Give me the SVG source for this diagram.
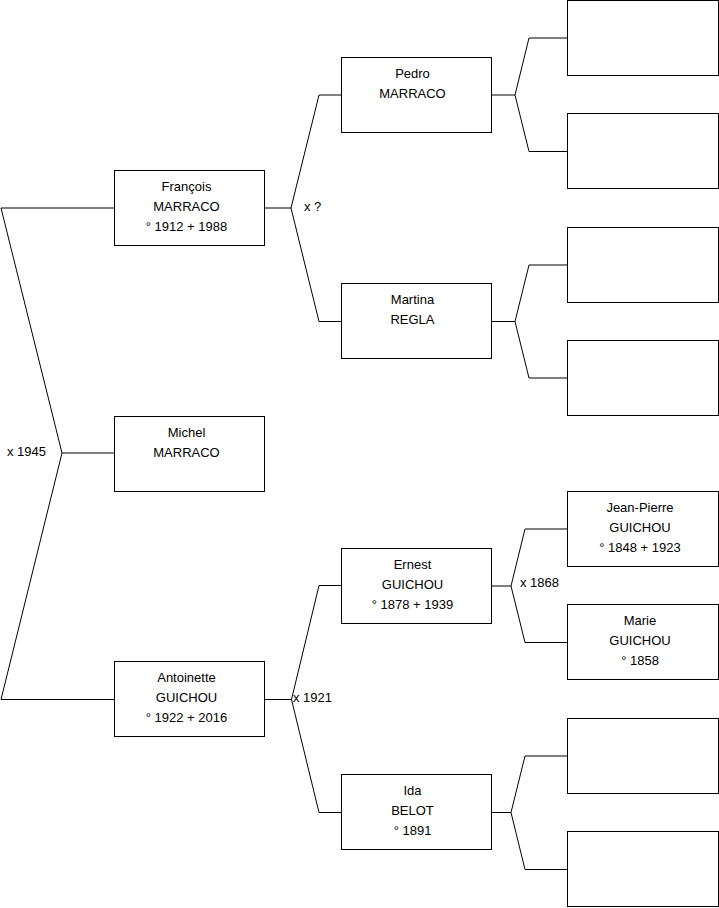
<svg xmlns="http://www.w3.org/2000/svg" width="719" height="908" viewBox="0 0 719 908">
<style>
.box{fill:#fff;stroke:#000;stroke-width:1}
.ln{fill:none;stroke:#000;stroke-width:1}
text{font-family:"Liberation Sans",Arial,sans-serif;font-size:13px;fill:#000}
.c{text-anchor:middle}
</style>
<rect width="719" height="908" fill="#fff"/>
<g id="connectors">
<polyline class="ln" points="114,208 1,208 62,453 1,699.5 114,699.5"/>
<line class="ln" x1="62" y1="453" x2="114" y2="453"/>
<text x="7" y="456">x 1945</text>
<polyline class="ln" points="341,95 319,95 291,208 319,321.5 341,321.5"/>
<line class="ln" x1="265" y1="208" x2="291" y2="208"/>
<text x="304" y="211">x ?</text>
<polyline class="ln" points="341,585.5 319,585.5 291.5,699.5 319,812.5 341,812.5"/>
<line class="ln" x1="265" y1="699.5" x2="291.5" y2="699.5"/>
<text x="293" y="702">x 1921</text>
<polyline class="ln" points="567,38 529,38 515,95 529,151.5 567,151.5"/>
<line class="ln" x1="491" y1="95" x2="515" y2="95"/>
<polyline class="ln" points="567,265 529,265 515,321.5 529,378 567,378"/>
<line class="ln" x1="491" y1="321.5" x2="515" y2="321.5"/>
<polyline class="ln" points="567,529 525,529 511,586 525,642.5 567,642.5"/>
<line class="ln" x1="491" y1="586" x2="511" y2="586"/>
<text x="520" y="587">x 1868</text>
<polyline class="ln" points="567,756 525,756 511,812.5 525,869.5 567,869.5"/>
<line class="ln" x1="491" y1="812.5" x2="511" y2="812.5"/>
</g>
<g id="francois"><rect class="box" x="114.5" y="170.5" width="150" height="75"/>
<text class="c" x="186.5" y="191">François</text><text class="c" x="186.5" y="211">MARRACO</text><text class="c" x="186.5" y="231">° 1912 + 1988</text></g>
<g id="michel"><rect class="box" x="114.5" y="416.5" width="150" height="75"/>
<text class="c" x="186.5" y="437">Michel</text><text class="c" x="186.5" y="457">MARRACO</text></g>
<g id="antoinette"><rect class="box" x="114.5" y="661.5" width="150" height="75"/>
<text class="c" x="186.5" y="682">Antoinette</text><text class="c" x="186.5" y="702">GUICHOU</text><text class="c" x="186.5" y="722">° 1922 + 2016</text></g>
<g id="pedro"><rect class="box" x="341.5" y="57.5" width="150" height="75"/>
<text class="c" x="412.5" y="78">Pedro</text><text class="c" x="412.5" y="98">MARRACO</text></g>
<g id="martina"><rect class="box" x="341.5" y="283.5" width="150" height="75"/>
<text class="c" x="412.5" y="304">Martina</text><text class="c" x="412.5" y="324">REGLA</text></g>
<g id="ernest"><rect class="box" x="341.5" y="548.5" width="150" height="75"/>
<text class="c" x="412.5" y="569">Ernest</text><text class="c" x="412.5" y="589">GUICHOU</text><text class="c" x="412.5" y="609">° 1878 + 1939</text></g>
<g id="ida"><rect class="box" x="341.5" y="774.5" width="150" height="75"/>
<text class="c" x="412.5" y="795">Ida</text><text class="c" x="412.5" y="815">BELOT</text><text class="c" x="412.5" y="835">° 1891</text></g>
<g id="r1"><rect class="box" x="567.5" y="0.5" width="151" height="75"/></g>
<g id="r2"><rect class="box" x="567.5" y="113.5" width="151" height="75"/></g>
<g id="r3"><rect class="box" x="567.5" y="227.5" width="151" height="75"/></g>
<g id="r4"><rect class="box" x="567.5" y="340.5" width="151" height="75"/></g>
<g id="jeanpierre"><rect class="box" x="567.5" y="491.5" width="151" height="75"/>
<text class="c" x="640" y="512">Jean-Pierre</text><text class="c" x="640" y="532">GUICHOU</text><text class="c" x="640" y="552">° 1848 + 1923</text></g>
<g id="marie"><rect class="box" x="567.5" y="604.5" width="151" height="75"/>
<text class="c" x="640" y="625">Marie</text><text class="c" x="640" y="645">GUICHOU</text><text class="c" x="640" y="665">° 1858</text></g>
<g id="r7"><rect class="box" x="567.5" y="718.5" width="151" height="75"/></g>
<g id="r8"><rect class="box" x="567.5" y="831.5" width="151" height="75"/></g>
</svg>
